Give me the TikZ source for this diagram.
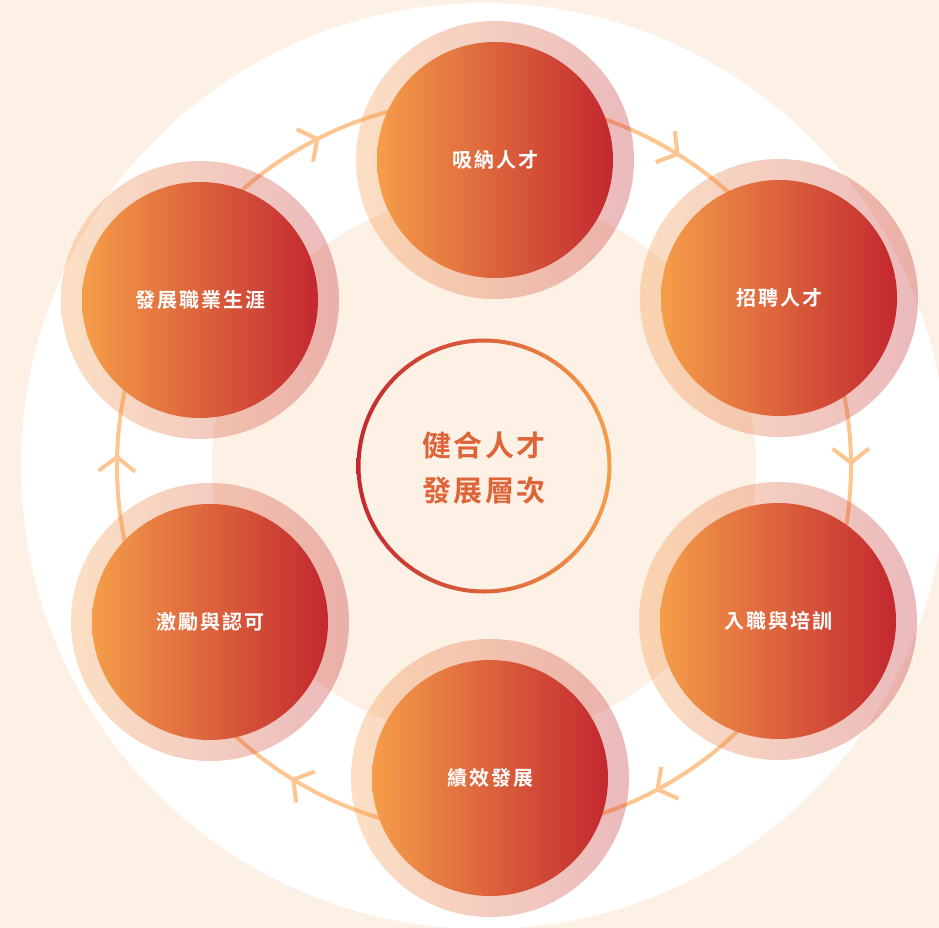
\documentclass[tikz,border=0pt]{standalone}
\usepackage{fontspec}
\newfontfamily\cjk[LetterSpace=10, BoldFont={Noto Sans CJK TC Bold}]{Noto Sans CJK TC}
\newfontfamily\cjkc[LetterSpace=9, BoldFont={Noto Sans CJK TC Bold}]{Noto Sans CJK TC}
\definecolor{bgpeach}{HTML}{FDF0E4}
\definecolor{corange}{HTML}{F59D49}
\definecolor{cred}{HTML}{C3282F}
\definecolor{ringc}{HTML}{FDC58F}
\definecolor{ctext}{HTML}{DE6439}
\tikzset{
  ringline/.style={draw=ringc, line width=4pt},
  halo/.style={circle, minimum size=278pt, inner sep=0pt, left color=corange, right color=cred, fill opacity=0.32, draw=none},
  stage/.style={circle, minimum size=236pt, inner sep=0pt, left color=corange, right color=cred, text=white, font=\cjk\bfseries\fontsize{20}{24}\selectfont},
}
\begin{document}
\begin{tikzpicture}[x=1pt,y=-1pt]
\useasboundingbox (0,0) rectangle (939,928);
\fill[bgpeach] (0,0) rectangle (939,928);
\begin{scope}
\clip (0,0) rectangle (939,928);
\coordinate (c) at (484,466);
\fill[white] (c) circle (463);
\fill[bgpeach] (c) circle (272);
\draw[ringline] (c) circle (367);
\begin{scope}[shift={(484,466)}]
\foreach \a in {243,301.8,359.5,61.8,121.3,181.4} {
  \pgfmathsetmacro{\armA}{\a-38}
  \pgfmathsetmacro{\armB}{\a-142}
  \coordinate (v) at (\a:367);
  \draw[ringline] (v) -- ++(\armA:23);
  \draw[ringline] (v) -- ++(\armB:23);
}
\end{scope}
% halos
\node[halo] (h1) at (495,160) {};
\node[halo] (h2) at (779,298) {};
\node[halo] (h3) at (778,621) {};
\node[halo] (h4) at (490,778) {};
\node[halo] (h5) at (210,622) {};
\node[halo] (h6) at (200,300) {};
% stages
\node[stage] (s1) at (h1) {吸納人才};
\node[stage] (s2) at (h2) {招聘人才};
\node[stage] (s3) at (h3) {入職與培訓};
\node[stage] (s4) at (h4) {績效發展};
\node[stage] (s5) at (h5) {激勵與認可};
\node[stage] (s6) at (h6) {發展職業生涯};
% centre ring
\path[left color=cred, right color=corange, even odd rule] (c) circle (127.5) (c) circle (123.5);
\node[align=center, text=ctext, font=\cjkc\bfseries\fontsize{29}{45}\selectfont] (core) at (484,468.5) {健合人才\\發展層次};
\end{scope}
\end{tikzpicture}
\end{document}
